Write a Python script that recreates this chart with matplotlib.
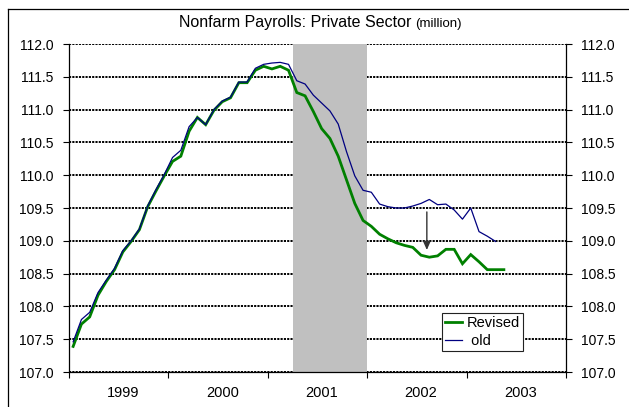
import numpy as np
import matplotlib
matplotlib.use("Agg")
import matplotlib.pyplot as plt
from matplotlib.lines import Line2D

plt.rcParams['font.family'] = ['Liberation Sans', 'DejaVu Sans']

# Monthly private nonfarm payrolls, million, starting January 1999
years = ['1999', '2000', '2001', '2002', '2003']
revised = [
    107.39, 107.73, 107.84, 108.17, 108.38, 108.56, 108.83, 108.99, 109.17, 109.52, 109.76, 109.99,
    110.21, 110.29, 110.67, 110.88, 110.77, 110.99, 111.12, 111.18, 111.41, 111.41, 111.60, 111.66,
    111.62, 111.66, 111.60, 111.26, 111.21, 110.97, 110.71, 110.56, 110.29, 109.93, 109.57, 109.31,
    109.22, 109.10, 109.03, 108.97, 108.93, 108.90, 108.78, 108.75, 108.77, 108.87, 108.87, 108.65,
    108.79, 108.68, 108.56, 108.56, 108.56,
]
old = [
    107.46, 107.80, 107.91, 108.21, 108.40, 108.58, 108.85, 109.00, 109.18, 109.53, 109.78, 110.01,
    110.27, 110.38, 110.74, 110.88, 110.77, 111.00, 111.13, 111.19, 111.42, 111.42, 111.63, 111.69,
    111.71, 111.72, 111.69, 111.44, 111.39, 111.22, 111.10, 110.98, 110.78, 110.36, 109.99, 109.77,
    109.74, 109.56, 109.52, 109.50, 109.50, 109.53, 109.57, 109.63, 109.55, 109.56, 109.47, 109.33,
    109.50, 109.14, 109.07, 108.99,
]
recession = (27, 36)          # shaded span, in months from Jan 1999
arrow_month = 43.2            # where the revision arrow sits
arrow_from, arrow_to = 109.44, 108.86

W, H = 629, 407
fig = plt.figure(figsize=(W / 100, H / 100), dpi=100)
ax = fig.add_axes([69 / W, (H - 372) / H, (566 - 69) / W, (372 - 44) / H])

n_months = 12 * len(years)
ax.set_xlim(0, n_months)
ax.set_ylim(107, 112)

ax.axvspan(*recession, facecolor='#c0c0c0', lw=0, zorder=1)
ax.plot(np.arange(len(revised)) + 0.5, revised, color='#008000', lw=2.0,
        zorder=3, label='Revised', solid_joinstyle='miter')
ax.plot(np.arange(len(old)) + 0.5, old, color='#000080', lw=0.9,
        zorder=4, label=' old')

ax.annotate('', xy=(arrow_month, arrow_to), xytext=(arrow_month, arrow_from),
            arrowprops=dict(arrowstyle='-|>,head_length=0.5,head_width=0.22',
                            color='#333333', lw=1.0, shrinkA=0, shrinkB=0),
            zorder=5)

# y axis on both sides
ax.set_yticks(np.arange(107, 112.01, 0.5))
ax.yaxis.set_major_formatter(matplotlib.ticker.FormatStrFormatter('%.1f'))
ax.tick_params(axis='y', which='major', left=True, right=True, labelleft=True,
               labelright=True, direction='out', length=4.5, width=0.8,
               labelsize=10, pad=6.5)
ax.yaxis.grid(True, color='black', linestyle=(0, (1.1, 0.6)), lw=1.4)
ax.set_axisbelow(True)

# x axis: year boundaries as ticks, year names centred in the year
ax.set_xticks(np.arange(0, n_months + 1, 12))
ax.set_xticklabels([])
ax.set_xticks(np.arange(len(years)) * 12 + 6.5, minor=True)
ax.set_xticklabels(years, minor=True)
ax.tick_params(axis='x', which='major', direction='out', length=4.5, width=0.8)
ax.tick_params(axis='x', which='minor', length=0, labelsize=10.5, pad=10)

for side in ('left', 'right', 'bottom'):
    ax.spines[side].set_linewidth(0.9)
ax.spines['top'].set_visible(False)

leg = ax.legend(loc='upper left', bbox_to_anchor=(442 / W, 1 - 313 / H),
                bbox_transform=fig.transFigure, frameon=True, fancybox=False,
                framealpha=1, edgecolor='#222222', fontsize=10.5,
                handlelength=1.2, handletextpad=0.3, borderpad=0.2,
                labelspacing=0.3, borderaxespad=0)
leg.get_frame().set_linewidth(0.8)
leg.set_zorder(6)

# title: main part plus a smaller unit note
t_main = fig.text(0, 1 - 23 / H, 'Nonfarm Payrolls: Private Sector',
                  fontsize=11.5, va='center', ha='left')
t_unit = fig.text(0, 1 - 23.5 / H, '(million)', fontsize=9.5,
                  va='center', ha='left')
fig.canvas.draw()
r = fig.canvas.get_renderer()
w_main = t_main.get_window_extent(r).width
w_unit = t_unit.get_window_extent(r).width
gap = 4
x0 = 320 - (w_main + gap + w_unit) / 2
t_main.set_x(x0 / W)
t_unit.set_x((x0 + w_main + gap) / W)

# chart frame
fig.add_artist(Line2D([7.5 / W, 7.5 / W], [0, 1 - 8.5 / H], color='black', lw=0.9))
fig.add_artist(Line2D([7.5 / W, 1], [1 - 8.5 / H, 1 - 8.5 / H], color='black', lw=0.9))

fig.savefig('out.png', dpi=100)
